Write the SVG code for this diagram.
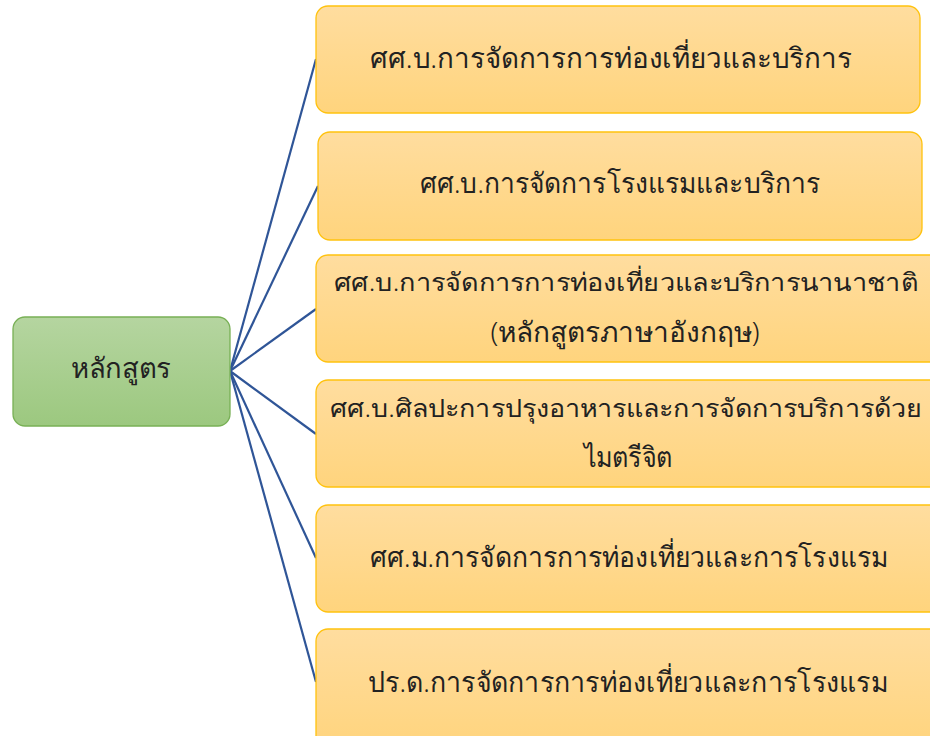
<svg xmlns="http://www.w3.org/2000/svg" width="930" height="736" viewBox="0 0 930 736">
<defs>
<linearGradient id="gG" x1="0" y1="0" x2="0" y2="1"><stop offset="0" stop-color="#b5d5a0"/><stop offset="1" stop-color="#9cc87f"/></linearGradient>
<linearGradient id="gO" x1="0" y1="0" x2="0" y2="1"><stop offset="0" stop-color="#ffdd9f"/><stop offset="1" stop-color="#ffd47d"/></linearGradient>
<style>
.o{fill:url(#gO);stroke:#ffc20e;stroke-width:1.3}
.g{fill:url(#gG);stroke:#78b055;stroke-width:1.3}
text{font-family:"Noto Sans","DejaVu Sans",sans-serif;font-size:28px;font-weight:300;fill:#222;text-anchor:middle}
.s{font-size:25px}
.c line{stroke:#2f5597;stroke-width:2.2}
</style>
</defs>
<g class="c" id="connectors">
<line x1="230" y1="371" x2="316" y2="59"/>
<line x1="230" y1="371" x2="318" y2="186"/>
<line x1="230" y1="371" x2="316" y2="309"/>
<line x1="230" y1="371" x2="316" y2="434"/>
<line x1="230" y1="371" x2="316" y2="558"/>
<line x1="230" y1="371" x2="316" y2="682"/>
</g>
<g id="root"><rect class="g" x="13" y="317" width="217" height="109" rx="12"/><text x="121" y="378" textLength="100" lengthAdjust="spacingAndGlyphs">หลักสูตร</text></g>
<g id="n1"><rect class="o" x="316" y="6" width="604" height="107" rx="12"/><text x="611" y="68" textLength="482" lengthAdjust="spacingAndGlyphs">ศศ.บ.การจัดการการท่องเที่ยวและบริการ</text></g>
<g id="n2"><rect class="o" x="318" y="132" width="604" height="108" rx="12"/><text x="620" y="193" textLength="400" lengthAdjust="spacingAndGlyphs">ศศ.บ.การจัดการโรงแรมและบริการ</text></g>
<g id="n3"><rect class="o" x="316" y="255" width="630" height="107" rx="12"/><text class="s" x="626" y="291" textLength="584" lengthAdjust="spacingAndGlyphs">ศศ.บ.การจัดการการท่องเที่ยวและบริการนานาชาติ</text><text x="625" y="342" textLength="269" lengthAdjust="spacingAndGlyphs">(หลักสูตรภาษาอังกฤษ)</text></g>
<g id="n4"><rect class="o" x="316" y="380" width="630" height="107" rx="12"/><text class="s" x="626" y="417" textLength="592" lengthAdjust="spacingAndGlyphs">ศศ.บ.ศิลปะการปรุงอาหารและการจัดการบริการด้วย</text><text x="628" y="467" textLength="89" lengthAdjust="spacingAndGlyphs">ไมตรีจิต</text></g>
<g id="n5"><rect class="o" x="316" y="505" width="630" height="107" rx="12"/><text x="629" y="567" textLength="518" lengthAdjust="spacingAndGlyphs">ศศ.ม.การจัดการการท่องเที่ยวและการโรงแรม</text></g>
<g id="n6"><rect class="o" x="316" y="629" width="630" height="120" rx="12"/><text x="628" y="692" textLength="520" lengthAdjust="spacingAndGlyphs">ปร.ด.การจัดการการท่องเที่ยวและการโรงแรม</text></g>
</svg>
